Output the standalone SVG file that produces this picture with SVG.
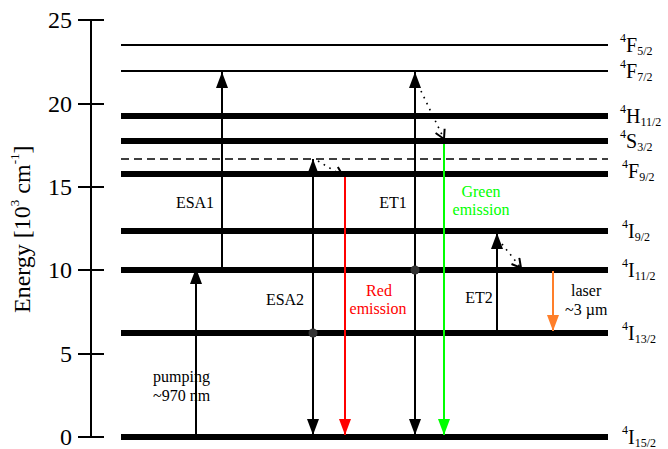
<svg xmlns="http://www.w3.org/2000/svg" width="668" height="449" viewBox="0 0 668 449">
<defs>
<style>
text{font-family:"Liberation Serif","Times New Roman",serif;fill:#000}
.tick{font-size:24px;text-anchor:end}
.lbl{font-size:16px}
.st{font-size:20px}
.sm{font-size:12px}
.thin{stroke:#000;stroke-width:2}
.thick{stroke:#000;stroke-width:6}
.arr{stroke-width:2;fill:none}
.dot{stroke:#000;stroke-width:1.6;stroke-dasharray:1.6 5;fill:none}
</style>
<marker id="ah" markerUnits="userSpaceOnUse" markerWidth="16" markerHeight="12" refX="16" refY="6" orient="auto-start-reverse" viewBox="0 0 16 12"><path d="M0,0 L16,6 L0,12 z" fill="#000"/></marker>
<marker id="ahr" markerUnits="userSpaceOnUse" markerWidth="16" markerHeight="12" refX="16" refY="6" orient="auto" viewBox="0 0 16 12"><path d="M0,0 L16,6 L0,12 z" fill="#ff0000"/></marker>
<marker id="ahg" markerUnits="userSpaceOnUse" markerWidth="16" markerHeight="12" refX="16" refY="6" orient="auto" viewBox="0 0 16 12"><path d="M0,0 L16,6 L0,12 z" fill="#00ff00"/></marker>
<marker id="aho" markerUnits="userSpaceOnUse" markerWidth="16" markerHeight="12" refX="16" refY="6" orient="auto" viewBox="0 0 16 12"><path d="M0,0 L16,6 L0,12 z" fill="#ff7f2a"/></marker>
<marker id="vh" markerUnits="userSpaceOnUse" markerWidth="12" markerHeight="12" refX="10" refY="6" orient="auto" viewBox="0 0 12 12"><path d="M1,1 L10,6 L1,11" fill="none" stroke="#000" stroke-width="2"/></marker>
</defs>

<g id="axis">
<line class="thin" x1="91" y1="20" x2="91" y2="437"/>
<line class="thin" x1="78" y1="20" x2="104" y2="20"/>
<line class="thin" x1="78" y1="104" x2="104" y2="104"/>
<line class="thin" x1="78" y1="187" x2="104" y2="187"/>
<line class="thin" x1="78" y1="270" x2="104" y2="270"/>
<line class="thin" x1="78" y1="354" x2="104" y2="354"/>
<line class="thin" x1="78" y1="437" x2="104" y2="437"/>
<text class="tick" x="72" y="28">25</text>
<text class="tick" x="72" y="112">20</text>
<text class="tick" x="72" y="195">15</text>
<text class="tick" x="72" y="278">10</text>
<text class="tick" x="72" y="362">5</text>
<text class="tick" x="72" y="445">0</text>
<text transform="translate(30,313) rotate(-90)" style="font-size:24px">Energy [10<tspan style="font-size:13px" dy="-11">3</tspan><tspan dy="11"> cm</tspan><tspan style="font-size:13px" dy="-11">-1</tspan><tspan dy="11">]</tspan></text>
</g>

<g id="levels">
<g id="F52"><line class="thin" x1="121" y1="45" x2="608" y2="45"/><text x="620" y="52"><tspan class="sm" dy="-10">4</tspan><tspan class="st" dy="10">F</tspan><tspan class="sm" dy="3">5/2</tspan></text></g>
<g id="F72"><line class="thin" x1="121" y1="71" x2="608" y2="71"/><text x="620" y="78"><tspan class="sm" dy="-10">4</tspan><tspan class="st" dy="10">F</tspan><tspan class="sm" dy="3">7/2</tspan></text></g>
<g id="H112"><line class="thick" x1="121" y1="116" x2="608" y2="116"/><text x="620" y="123"><tspan class="sm" dy="-10">4</tspan><tspan class="st" dy="10">H</tspan><tspan class="sm" dy="3">11/2</tspan></text></g>
<g id="S32"><line class="thick" x1="121" y1="141" x2="608" y2="141"/><text x="620" y="148"><tspan class="sm" dy="-10">4</tspan><tspan class="st" dy="10">S</tspan><tspan class="sm" dy="3">3/2</tspan></text></g>
<g id="dashed"><line x1="121" y1="159" x2="608" y2="159" stroke="#000" stroke-width="1.3" stroke-dasharray="8 5"/></g>
<g id="F92"><line class="thick" x1="121" y1="174" x2="608" y2="174"/><text x="622" y="178"><tspan class="sm" dy="-10">4</tspan><tspan class="st" dy="10">F</tspan><tspan class="sm" dy="3">9/2</tspan></text></g>
<g id="I92"><line class="thick" x1="121" y1="231" x2="608" y2="231"/><text x="622" y="238"><tspan class="sm" dy="-10">4</tspan><tspan class="st" dy="10">I</tspan><tspan class="sm" dy="3">9/2</tspan></text></g>
<g id="I112"><line class="thick" x1="121" y1="270" x2="608" y2="270"/><text x="622" y="277"><tspan class="sm" dy="-10">4</tspan><tspan class="st" dy="10">I</tspan><tspan class="sm" dy="3">11/2</tspan></text></g>
<g id="I132"><line class="thick" x1="121" y1="333" x2="608" y2="333"/><text x="622" y="340"><tspan class="sm" dy="-10">4</tspan><tspan class="st" dy="10">I</tspan><tspan class="sm" dy="3">13/2</tspan></text></g>
<g id="I152"><line class="thick" x1="121" y1="437" x2="608" y2="437"/><text x="622" y="444"><tspan class="sm" dy="-10">4</tspan><tspan class="st" dy="10">I</tspan><tspan class="sm" dy="3">15/2</tspan></text></g>
</g>

<g id="connectors">
<line class="arr" stroke="#000" x1="196" y1="434" x2="196" y2="268" marker-end="url(#ah)"/>
<line class="arr" stroke="#000" x1="222" y1="267" x2="222" y2="72" marker-end="url(#ah)"/>
<line class="arr" stroke="#000" x1="313" y1="435" x2="313" y2="159" marker-start="url(#ah)" marker-end="url(#ah)"/>
<circle cx="313" cy="333" r="4.5" fill="#333"/>
<path class="dot" d="M318,161 L343,176" marker-end="url(#vh)"/>
<line class="arr" stroke="#ff0000" x1="345" y1="177" x2="345" y2="435" marker-end="url(#ahr)"/>
<line class="arr" stroke="#000" x1="415" y1="435" x2="415" y2="72" marker-start="url(#ah)" marker-end="url(#ah)"/>
<circle cx="415" cy="270" r="4.5" fill="#333"/>
<path class="dot" d="M421,91 L444,139" marker-end="url(#vh)"/>
<line class="arr" stroke="#00ff00" x1="444" y1="144" x2="444" y2="435" marker-end="url(#ahg)"/>
<line class="arr" stroke="#000" x1="497" y1="330" x2="497" y2="233" marker-end="url(#ah)"/>
<path class="dot" d="M502,244 L521,268" marker-end="url(#vh)"/>
<line class="arr" stroke="#ff7f2a" x1="553" y1="271" x2="553" y2="331" marker-end="url(#aho)"/>
</g>

<g id="labels">
<text class="lbl" x="195" y="208" text-anchor="middle">ESA1</text>
<text class="lbl" x="285" y="305" text-anchor="middle">ESA2</text>
<text class="lbl" x="393" y="208" text-anchor="middle">ET1</text>
<text class="lbl" x="479" y="303" text-anchor="middle">ET2</text>
<text class="lbl" x="379" y="296" text-anchor="middle" style="fill:#ff0000">Red</text>
<text class="lbl" x="378" y="314" text-anchor="middle" style="fill:#ff0000">emission</text>
<text class="lbl" x="481" y="197" text-anchor="middle" style="fill:#00ff00">Green</text>
<text class="lbl" x="481" y="215" text-anchor="middle" style="fill:#00ff00">emission</text>
<text class="lbl" x="571" y="296">laser</text>
<text class="lbl" x="565" y="315">~3 µm</text>
<text class="lbl" x="153" y="382">pumping</text>
<text class="lbl" x="153" y="401">~970 nm</text>
</g>
</svg>
